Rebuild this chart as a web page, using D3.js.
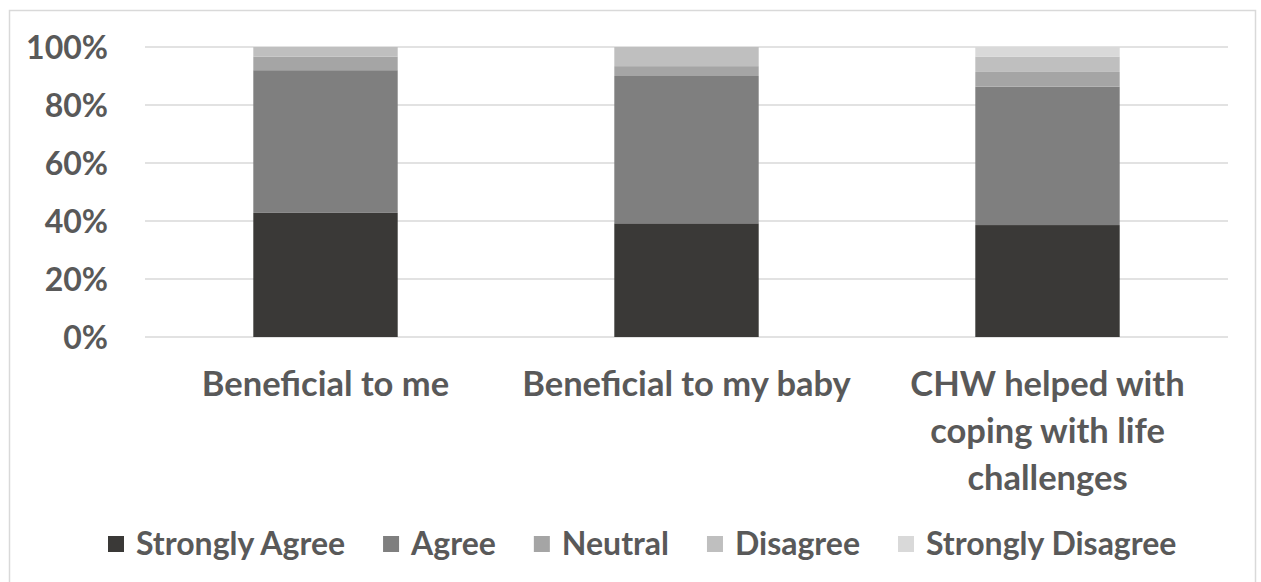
<!DOCTYPE html>
<html>
<head>
<meta charset="utf-8">
<script src="https://cdn.jsdelivr.net/npm/d3@7"></script>
<style>
  html, body { margin: 0; padding: 0; background: #ffffff; }
  svg { display: block; }
</style>
</head>
<body>
<svg id="chart" width="1261" height="582"></svg>
<script>
const categories = ["Beneficial to me", "Beneficial to my baby", "CHW helped with coping with life challenges"];
const categoryLines = [["Beneficial to me"], ["Beneficial to my baby"], ["CHW helped with", "coping with life", "challenges"]];
const seriesNames = ["Strongly Agree", "Agree", "Neutral", "Disagree", "Strongly Disagree"];
const stronglyAgree = [42.8, 39.2, 38.6];
const agree = [49.2, 50.8, 47.7];
const neutral = [4.7, 3.4, 5.1];
const disagree = [3.3, 6.6, 5.3];
const stronglyDisagree = [0, 0, 3.3];
const seriesColors = ["#3a3937", "#7f7f7f", "#a5a5a5", "#bfbfbf", "#d9d9d9"];
const yTicks = [0, 20, 40, 60, 80, 100];

const seriesValues = [stronglyAgree, agree, neutral, disagree, stronglyDisagree];
const rows = categories.map((c, i) => {
  const r = { category: c };
  seriesNames.forEach((s, j) => r[s] = seriesValues[j][i]);
  return r;
});

const svg = d3.select("#chart");
const plot = { left: 145, right: 1228, top: 47, bottom: 337 };
const textColor = "#595959";
const font = "Lato, 'Open Sans', sans-serif";

// outer border
svg.append("rect")
  .attr("x", 9.5).attr("y", 10.5)
  .attr("width", 1246).attr("height", 600)
  .attr("fill", "#fff").attr("stroke", "#d9d9d9").attr("stroke-width", 1.5);

const x = d3.scaleBand().domain(categories)
  .range([plot.left, plot.right]).paddingInner(0.6).paddingOuter(0.3);
const y = d3.scaleLinear().domain([0, 100]).range([plot.bottom, plot.top]);

// gridlines
svg.append("g").selectAll("line").data(yTicks).join("line")
  .attr("x1", plot.left).attr("x2", plot.right)
  .attr("y1", d => y(d)).attr("y2", d => y(d))
  .attr("stroke", "#d9d9d9").attr("stroke-width", 1.5);

// y axis labels
const yAxis = d3.axisLeft(y).tickValues(yTicks).tickFormat(d => d + "%").tickSize(0).tickPadding(0);
const yg = svg.append("g").attr("transform", `translate(108,0)`).call(yAxis);
yg.select(".domain").remove();
yg.selectAll("text")
  .attr("fill", textColor).attr("font-family", font).attr("font-weight", 700)
  .attr("font-size", 32).attr("dy", "0.35em");

// stacked bars
const stack = d3.stack().keys(seriesNames);
const stacked = stack(rows);
svg.append("g").selectAll("g").data(stacked).join("g")
  .attr("fill", (d, i) => seriesColors[i])
  .selectAll("rect").data(d => d).join("rect")
  .attr("x", d => x(d.data.category))
  .attr("width", x.bandwidth())
  .attr("y", d => y(d[1]))
  .attr("height", d => Math.max(0, y(d[0]) - y(d[1])));

// category labels
const cg = svg.append("g");
categories.forEach((c, i) => {
  const t = cg.append("text")
    .attr("x", x(c) + x.bandwidth() / 2)
    .attr("y", 396)
    .attr("text-anchor", "middle")
    .attr("fill", textColor).attr("font-family", font).attr("font-weight", 700)
    .attr("font-size", 34.5);
  categoryLines[i].forEach((line, k) => {
    t.append("tspan").attr("x", x(c) + x.bandwidth() / 2)
      .attr("dy", k === 0 ? 0 : 47).text(line);
  });
});

// legend
const legend = svg.append("g");
let lx = 108;
const ly = 544;
seriesNames.forEach((s, i) => {
  legend.append("rect").attr("x", lx).attr("y", ly - 8).attr("width", 16).attr("height", 16)
    .attr("fill", seriesColors[i]);
  const t = legend.append("text").attr("x", lx + 28).attr("y", ly).attr("dy", "0.35em")
    .attr("fill", textColor).attr("font-family", font).attr("font-weight", 700)
    .attr("font-size", 32).text(s);
  lx += 28 + t.node().getComputedTextLength() + 38;
});
</script>
</body>
</html>
